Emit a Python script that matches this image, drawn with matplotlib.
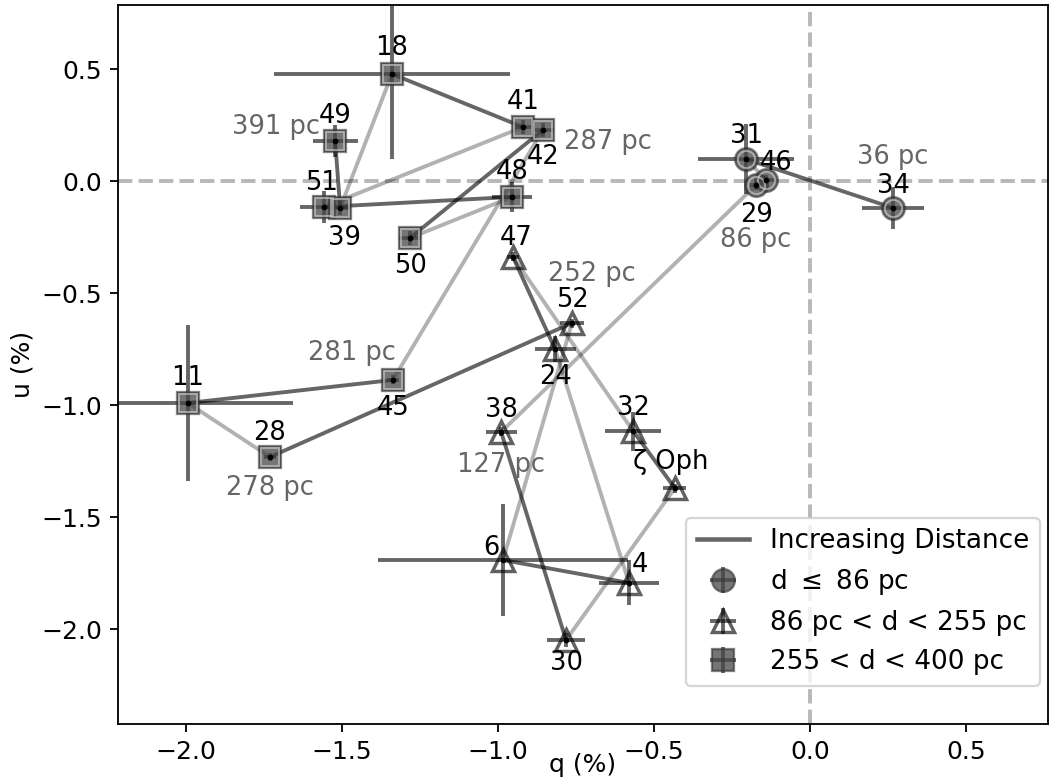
import matplotlib.pyplot as plt
from matplotlib.lines import Line2D

# stars with d <= 86 pc
near_names = ['31', '46', '29', '34']
near_q = [-0.205, -0.141, -0.173, 0.266]
near_u = [0.100, 0.007, -0.016, -0.118]
near_qerr = [0.153, 0.03, 0.02, 0.098]
near_uerr = [0.156, 0.02, 0.02, 0.094]

# stars with 86 pc < d < 255 pc
mid_names = ['47', '52', '24', '38', '32', 'ζ Oph', '6', '4', '30']
mid_q = [-0.952, -0.763, -0.817, -0.990, -0.567, -0.433, -0.984, -0.580, -0.782]
mid_u = [-0.337, -0.632, -0.748, -1.118, -1.114, -1.369, -1.690, -1.792, -2.047]
mid_qerr = [0.02, 0.038, 0.066, 0.05, 0.09, 0.037, 0.40, 0.096, 0.06]
mid_uerr = [0.02, 0.02, 0.06, 0.02, 0.087, 0.02, 0.25, 0.10, 0.03]

# stars with 255 < d < 400 pc
far_names = ['18', '49', '51', '39', '41', '42', '48', '50', '11', '28', '45']
far_q = [-1.340, -1.522, -1.558, -1.506, -0.920, -0.856, -0.955, -1.282, -1.994, -1.731, -1.337]
far_u = [0.480, 0.181, -0.114, -0.118, 0.243, 0.230, -0.069, -0.252, -0.989, -1.230, -0.886]
far_qerr = [0.377, 0.072, 0.077, 0.03, 0.03, 0.035, 0.063, 0.035, 0.336, 0.02, 0.02]
far_uerr = [0.38, 0.071, 0.071, 0.03, 0.03, 0.03, 0.067, 0.03, 0.35, 0.02, 0.02]

# order of increasing distance
path = ['34', '31', '46', '29', '38', '30', 'ζ Oph', '32', '47', '24', '4', '6',
        '52', '28', '11', '45', '42', '50', '48', '51', '41', '18', '39', '49']

dist_labels = {'34': '36 pc', '29': '86 pc', '38': '127 pc', '52': '252 pc',
               '28': '278 pc', '45': '281 pc', '42': '287 pc', '49': '391 pc'}

# label offsets in points
name_off = {'18': (0, 11.4), '49': (0, 11), '51': (-1, 10.5), '39': (2, -13),
            '41': (0, 11), '42': (0, -12), '48': (0, 11), '50': (0, -12.3),
            '11': (0, 11), '28': (0, 10.5), '45': (0, -12.3), '47': (1.5, 8.5),
            '52': (0, 10), '24': (0, -12.3), '38': (0, 9.7), '32': (0, 10),
            'ζ Oph': (-2, 11.4), '6': (-5.3, 5.3), '4': (5, 8), '30': (0, -10),
            '31': (0, 10), '46': (4.4, 7.5), '29': (0, -13), '34': (0, 9.7)}
dist_off = {'34': (0, 22.4), '29': (0, -24), '38': (0, -14.5), '52': (8.8, 21.5),
            '28': (0, -13.6), '45': (-18, 12), '42': (28.5, -5.3), '49': (-26, 6)}

pos = {}
for names, qs, us in [(near_names, near_q, near_u), (mid_names, mid_q, mid_u),
                      (far_names, far_q, far_u)]:
    for n, q, u in zip(names, qs, us):
        pos[n] = (q, u)

fig = plt.figure(figsize=(1052 / 164, 778 / 164), dpi=164)
ax = fig.add_axes([0.1122, 0.0694, 0.884, 0.9242])

ax.axhline(0, color='0.72', ls='--', lw=1.7, zorder=0)
ax.axvline(0, color='0.72', ls='--', lw=1.7, zorder=0)

# alternating dark / light segments
for i in range(len(path) - 1):
    a, b = pos[path[i]], pos[path[i + 1]]
    alpha = 0.6 if i % 2 == 0 else 0.3
    ax.plot([a[0], b[0]], [a[1], b[1]], color='k', alpha=alpha, lw=1.7, zorder=1)

ecol = (0, 0, 0, 0.6)
fill = (0.28, 0.28, 0.28, 0.75)
h_near = ax.errorbar(near_q, near_u, xerr=near_qerr, yerr=near_uerr, fmt='o', ms=10,
                     mfc=fill, mec=(0.2, 0.2, 0.2, 0.6), mew=1,
                     ecolor=ecol, elinewidth=1.7, zorder=3)
h_mid = ax.errorbar(mid_q, mid_u, xerr=mid_qerr, yerr=mid_uerr, fmt='^', ms=10,
                    mfc='none', mec=(0, 0, 0, 0.62), mew=1.5,
                    ecolor=ecol, elinewidth=1.7, zorder=3)
h_far = ax.errorbar(far_q, far_u, xerr=far_qerr, yerr=far_uerr, fmt='s', ms=10,
                    mfc=fill, mec=(0.2, 0.2, 0.2, 0.6), mew=1,
                    ecolor=ecol, elinewidth=1.7, zorder=3)

# light inner ring on the filled markers
ax.plot(near_q, near_u, 'o', ms=7.5, mfc='none', mec=(0.78, 0.78, 0.78, 0.7), mew=0.8, zorder=4)
ax.plot(far_q, far_u, 's', ms=7.5, mfc='none', mec=(0.78, 0.78, 0.78, 0.7), mew=0.8, zorder=4)

allq = near_q + mid_q + far_q
allu = near_u + mid_u + far_u
ax.plot(allq, allu, '.', color='k', ms=3, zorder=5)

for n, (q, u) in pos.items():
    ax.annotate(n, (q, u), xytext=name_off[n], textcoords='offset points',
                ha='center', va='center', fontsize=11.3, color='k', zorder=6)
for n, txt in dist_labels.items():
    ax.annotate(txt, pos[n], xytext=dist_off[n], textcoords='offset points',
                ha='center', va='center', fontsize=11.3, color='0.4', zorder=6)

line_h = Line2D([], [], color='k', alpha=0.6, lw=2)
ax.legend([line_h, h_near, h_mid, h_far],
          ['Increasing Distance', r'd $\leq$ 86 pc', '86 pc < d < 255 pc', '255 < d < 400 pc'],
          loc='lower right', bbox_to_anchor=(0.991, 0.053), borderaxespad=0,
          fontsize=11.5)

ax.set_xlim(-2.218, 0.763)
ax.set_ylim(-2.422, 0.788)
ax.tick_params(labelsize=11)
ax.set_xlabel('q (%)', fontsize=11, labelpad=-5)
ax.set_ylabel('u (%)', fontsize=11, labelpad=3)

fig.savefig('out.png', dpi=164)
